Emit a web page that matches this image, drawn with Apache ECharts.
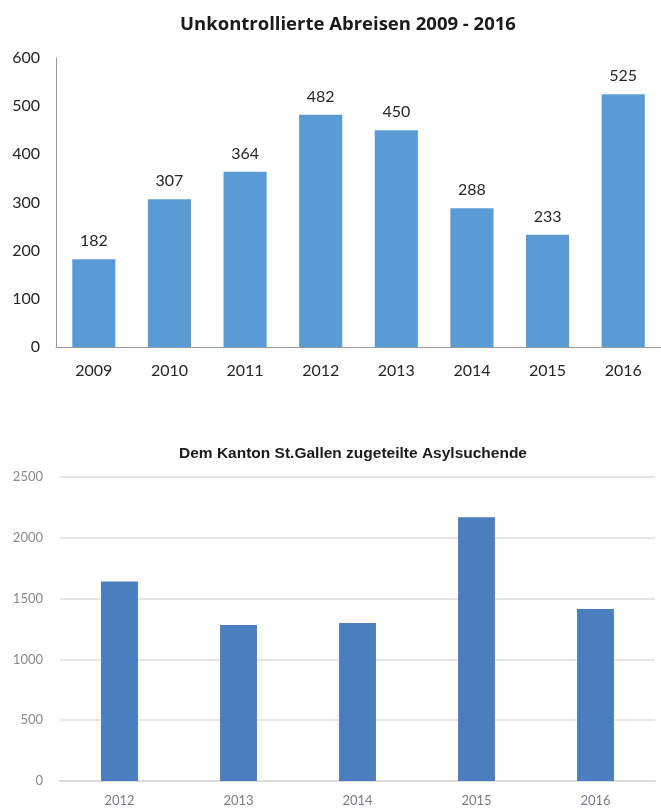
<!DOCTYPE html>
<html>
<head>
<meta charset="utf-8">
<script src="https://cdn.jsdelivr.net/npm/echarts@6/dist/echarts.min.js"></script>
<style>
html,body{margin:0;padding:0;background:#fff;}
#chart{width:661px;height:811px;}
</style>
</head>
<body>
<div id="chart"></div>
<script>
// Top chart data
const topTitle = "Unkontrollierte Abreisen 2009 - 2016";
const topYears = ["2009","2010","2011","2012","2013","2014","2015","2016"];
const topValues = [182, 307, 364, 482, 450, 288, 233, 525];
const topTicks = [0, 600, 100]; // min, max, interval

// Bottom chart data
const bottomTitle = "Dem Kanton St.Gallen zugeteilte Asylsuchende";
const bottomYears = ["2012","2013","2014","2015","2016"];
const bottomValues = [1640, 1283, 1299, 2170, 1414];
const bottomTicks = [0, 2500, 500];

const chart = echarts.init(document.getElementById('chart'), null, {renderer:'canvas'});
const calFont = 'Lato';
chart.setOption({
  animation: false,
  backgroundColor: '#ffffff',
  title: [
    {text: topTitle, left: 343, top: 10, textAlign: 'center',
     textStyle: {fontFamily: 'Open Sans', fontWeight: 'bold', fontSize: 18.5, color: '#1a1a1a'}},
    {text: bottomTitle, left: 348, top: 441, textAlign: 'center',
     textStyle: {fontFamily: 'Liberation Sans', fontWeight: 'bold', fontSize: 15.5, color: '#1a1a1a'}}
  ],
  grid: [
    {left: 56, top: 58, width: 614, height: 289},
    {left: 60, top: 477, width: 595, height: 304}
  ],
  xAxis: [
    {type: 'category', gridIndex: 0, data: topYears,
     axisLine: {show: true, lineStyle: {color: '#9a9a9a', width: 1}},
     axisTick: {show: false},
     axisLabel: {fontFamily: calFont, fontSize: 16, color: '#262626', margin: 16}},
    {type: 'category', gridIndex: 1, data: bottomYears,
     axisLine: {show: true, lineStyle: {color: '#dcdcdc', width: 2}},
     axisTick: {show: false},
     axisLabel: {fontFamily: calFont, fontSize: 13, color: '#7a7a88', margin: 13}}
  ],
  yAxis: [
    {type: 'value', gridIndex: 0, min: topTicks[0], max: topTicks[1], interval: topTicks[2],
     axisLine: {show: true, lineStyle: {color: '#9a9a9a', width: 1}},
     axisTick: {show: false},
     splitLine: {show: false},
     axisLabel: {fontFamily: calFont, fontSize: 16, color: '#262626', margin: 16}},
    {type: 'value', gridIndex: 1, min: bottomTicks[0], max: bottomTicks[1], interval: bottomTicks[2],
     axisLine: {show: false},
     axisTick: {show: false},
     splitLine: {show: true, lineStyle: {color: '#e6e6e6', width: 2}},
     axisLabel: {fontFamily: calFont, fontSize: 13, color: '#8a8a8a', margin: 17,
                 formatter: function (v) { return String(v); }}}
  ],
  series: [
    {type: 'bar', xAxisIndex: 0, yAxisIndex: 0, data: topValues,
     barWidth: '57%',
     itemStyle: {color: '#5B9BD5'},
     label: {show: true, position: 'top', distance: 10, fontFamily: calFont, fontSize: 16, color: '#262626'}},
    {type: 'bar', xAxisIndex: 1, yAxisIndex: 1, data: bottomValues,
     barWidth: '31%',
     itemStyle: {color: '#4A7EBE'}}
  ]
});
</script>
</body>
</html>
